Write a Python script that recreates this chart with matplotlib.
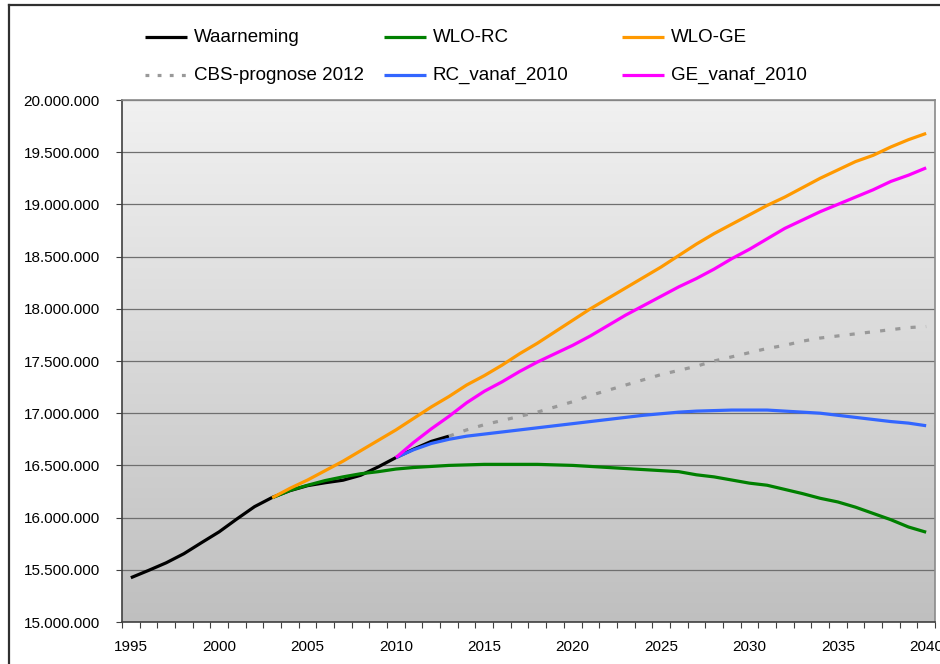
import numpy as np
import matplotlib
matplotlib.use('Agg')
import matplotlib.pyplot as plt
from matplotlib.lines import Line2D
from matplotlib.ticker import FuncFormatter, MultipleLocator

plt.rcParams['font.family'] = ['Liberation Sans', 'DejaVu Sans']

# population in millions
years_obs = list(range(1995, 2014))
waarneming = [15.424, 15.494, 15.567, 15.654, 15.760, 15.864, 15.987, 16.105, 16.193,
              16.258, 16.306, 16.334, 16.358, 16.405, 16.486, 16.575, 16.656, 16.730, 16.780]

years_wlo = list(range(2003, 2041))
wlo_rc = [16.19, 16.26, 16.31, 16.355, 16.39, 16.42, 16.44, 16.465, 16.48, 16.49,
          16.50, 16.505, 16.51, 16.51, 16.51, 16.51, 16.505, 16.50, 16.49, 16.48,
          16.47, 16.46, 16.45, 16.44, 16.41, 16.39, 16.36, 16.33, 16.31, 16.27,
          16.23, 16.185, 16.15, 16.10, 16.04, 15.98, 15.91, 15.86]
wlo_ge = [16.19, 16.28, 16.36, 16.45, 16.54, 16.64, 16.74, 16.84, 16.95, 17.06,
          17.16, 17.27, 17.36, 17.46, 17.57, 17.67, 17.78, 17.89, 18.00, 18.10,
          18.20, 18.30, 18.40, 18.51, 18.62, 18.72, 18.81, 18.90, 18.99, 19.07,
          19.16, 19.25, 19.33, 19.41, 19.47, 19.55, 19.62, 19.68]

years_cbs = list(range(2013, 2041))
cbs_2012 = [16.78, 16.84, 16.89, 16.93, 16.97, 17.01, 17.06, 17.11, 17.17, 17.22,
            17.27, 17.32, 17.37, 17.41, 17.45, 17.50, 17.54, 17.58, 17.62, 17.65,
            17.69, 17.72, 17.74, 17.76, 17.78, 17.80, 17.82, 17.83]

years_2010 = list(range(2010, 2041))
rc_vanaf_2010 = [16.575, 16.65, 16.71, 16.75, 16.78, 16.80, 16.82, 16.84, 16.86, 16.88,
                 16.90, 16.92, 16.94, 16.96, 16.98, 16.995, 17.01, 17.02, 17.025, 17.03,
                 17.03, 17.03, 17.02, 17.01, 17.00, 16.98, 16.96, 16.94, 16.92, 16.905, 16.88]
ge_vanaf_2010 = [16.575, 16.72, 16.85, 16.97, 17.10, 17.21, 17.30, 17.40, 17.49, 17.57,
                 17.65, 17.74, 17.84, 17.94, 18.03, 18.12, 18.21, 18.29, 18.38, 18.48,
                 18.57, 18.67, 18.77, 18.85, 18.93, 19.00, 19.07, 19.14, 19.22, 19.28, 19.35]

W, H = 940, 664
fig = plt.figure(figsize=(W / 100, H / 100), dpi=100)
ax = fig.add_axes([122 / W, 1 - 622 / H, 813 / W, 522 / H])

# gradient background of plot area
grad = np.linspace(0.945, 0.75, 256).reshape(-1, 1)
ax.imshow(np.dstack([grad, grad, grad]), extent=(1994.5, 2040.5, 15e6, 20e6),
          aspect='auto', zorder=0, origin='upper')

series = [
    (years_obs, waarneming, '#000000', '-'),
    (years_wlo, wlo_rc, '#008000', '-'),
    (years_wlo, wlo_ge, '#FF9900', '-'),
    (years_cbs, cbs_2012, '#999999', ':'),
    (years_2010, rc_vanaf_2010, '#3366FF', '-'),
    (years_2010, ge_vanaf_2010, '#FF00FF', '-'),
]
for x, y, c, ls in series:
    line, = ax.plot(x, np.array(y) * 1e6, color=c, lw=2.3, zorder=3, solid_capstyle='butt')
    if ls == ':':
        line.set_dashes([1.6, 3.2])
        line.set_dash_capstyle('butt')

ax.set_xlim(1994.5, 2040.5)
ax.set_ylim(15e6, 20e6)
ax.yaxis.set_major_locator(MultipleLocator(500000))
ax.yaxis.set_major_formatter(FuncFormatter(lambda v, p: f"{int(round(v)):,}".replace(',', '.')))
ax.grid(axis='y', color='#6f6f6f', lw=0.9, zorder=1)

ax.set_xticks(range(1995, 2041, 5))
ax.set_xticks(np.arange(1994.5, 2041, 1), minor=True)
ax.tick_params(axis='x', which='major', length=0, pad=13, labelsize=11)
ax.tick_params(axis='x', which='minor', length=4, width=0.8, direction='out', color='#404040')
ax.tick_params(axis='y', length=4, width=0.8, direction='out', color='#404040', pad=12, labelsize=11)

for s in ['left', 'bottom']:
    ax.spines[s].set_color('#404040')
    ax.spines[s].set_linewidth(1.2)
for s in ['top', 'right']:
    ax.spines[s].set_color('#8a8a8a')
    ax.spines[s].set_linewidth(1.2)

# legend drawn in figure coords (fixed-width columns)
labels = ['Waarneming', 'WLO-RC', 'WLO-GE', 'CBS-prognose 2012', 'RC_vanaf_2010', 'GE_vanaf_2010']
col_x = [145, 384, 622]
row_y = [37, 75]
for i, (lab, (_, _, c, ls)) in enumerate(zip(labels, series)):
    cx = col_x[i % 3]
    ry = row_y[i // 3]
    ln = Line2D([cx / W, (cx + 42) / W], [1 - ry / H] * 2, transform=fig.transFigure,
                color=c, lw=2.3, solid_capstyle='butt')
    if ls == ':':
        ln.set_dashes([1.2, 2.6])
    fig.add_artist(ln)
    fig.text((cx + 49) / W, 1 - ry / H, lab, fontsize=13.5, va='center', ha='left')

# outer chart frame
fig.add_artist(Line2D([9 / W, 9 / W], [1 - 5 / H, 0], transform=fig.transFigure, color='#303030', lw=1.6))
fig.add_artist(Line2D([9 / W, 1], [1 - 5 / H, 1 - 5 / H], transform=fig.transFigure, color='#303030', lw=1.6))

fig.savefig('out.png', dpi=100)
